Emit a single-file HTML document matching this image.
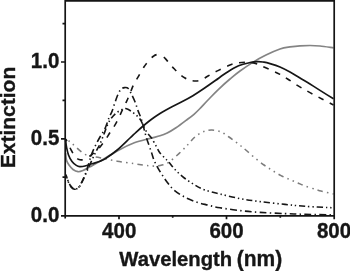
<!DOCTYPE html>
<html><head><meta charset="utf-8">
<style>
html,body{margin:0;padding:0;background:#fff;}
body{width:350px;height:271px;overflow:hidden;position:relative;font-family:"Liberation Sans",sans-serif;}
svg{position:absolute;left:0;top:0;will-change:transform;}
text{font-family:"Liberation Sans",sans-serif;font-weight:bold;font-size:20.5px;fill:#161616;stroke:#161616;stroke-width:0.35px;}
</style></head><body>
<svg width="350" height="271" viewBox="0 0 350 271">
<g>
<path d="M65.8,138.5 C66.8,139.3 69.0,141.0 72.0,143.5 C75.0,146.0 80.4,151.5 83.7,153.6 C87.0,155.7 89.3,155.6 92.0,156.3 C94.7,157.0 95.8,156.9 100.0,157.7 C104.2,158.5 111.5,160.2 117.2,161.2 C122.9,162.2 129.7,163.0 134.3,163.7 C138.9,164.4 142.1,164.9 145.0,165.3 C147.9,165.7 149.7,165.9 151.7,166.0 C153.7,166.1 155.3,166.2 157.0,166.0 C158.7,165.8 160.0,165.7 162.0,165.1 C164.0,164.5 166.0,164.1 168.9,162.2 C171.8,160.2 176.0,156.3 179.2,153.4 C182.4,150.5 185.4,147.2 188.0,144.5 C190.6,141.8 192.8,138.8 195.0,136.9 C197.2,135.0 199.2,133.8 201.0,132.8 C202.8,131.8 204.2,131.3 206.0,130.8 C207.8,130.3 209.8,129.9 212.0,130.0 C214.2,130.1 217.0,130.6 219.0,131.2 C221.0,131.8 222.3,132.5 224.0,133.5 C225.7,134.5 227.2,135.7 229.0,137.0 C230.8,138.3 233.0,140.0 235.0,141.5 C237.0,143.0 239.0,144.4 241.0,146.0 C243.0,147.6 244.7,149.0 247.0,151.0 C249.3,153.0 252.2,155.7 255.0,158.0 C257.8,160.3 261.2,163.0 264.0,165.0 C266.8,167.0 269.2,168.4 272.0,170.2 C274.8,172.0 278.0,174.0 281.0,175.6 C284.0,177.2 287.2,178.5 290.0,179.7 C292.8,180.9 295.5,181.9 298.0,183.0 C300.5,184.1 302.0,184.9 305.0,186.0 C308.0,187.1 313.3,188.7 316.0,189.5 C318.7,190.3 318.1,190.2 321.0,191.0 C323.9,191.8 331.4,193.5 333.5,194.0" fill="none" stroke="#7c7c7c" stroke-width="1.55" stroke-dasharray="5.60,4.15,1.50,4.15,1.50,4.15" stroke-dashoffset="6.12"/>
<path d="M65.6,153.0 C65.8,154.2 65.9,158.3 66.5,160.3 C67.1,162.3 67.9,163.5 69.0,165.0 C70.1,166.5 71.5,168.4 73.0,169.5 C74.5,170.6 76.3,171.5 78.0,171.7 C79.7,171.9 81.1,171.3 83.0,170.5 C84.9,169.7 86.6,168.7 89.4,167.1 C92.2,165.5 95.4,163.9 100.0,161.2 C104.6,158.5 111.5,154.0 117.2,150.9 C122.9,147.8 128.8,144.9 134.3,142.8 C139.8,140.7 145.7,139.6 150.0,138.4 C154.3,137.2 157.1,136.7 160.0,135.8 C162.9,134.9 164.5,134.3 167.2,133.0 C169.9,131.7 172.9,129.9 176.0,127.8 C179.1,125.7 183.0,122.7 186.0,120.4 C189.0,118.2 191.7,116.3 194.0,114.3 C196.3,112.3 197.7,110.9 200.0,108.5 C202.3,106.1 205.0,103.1 208.0,100.0 C211.0,96.9 214.3,93.3 218.0,89.8 C221.7,86.3 226.3,82.1 230.0,79.0 C233.7,75.9 236.0,73.9 240.0,71.0 C244.0,68.1 249.7,64.3 254.0,61.6 C258.3,58.9 261.7,57.1 266.0,55.0 C270.3,52.9 276.0,50.4 280.0,49.0 C284.0,47.6 286.7,47.4 290.0,46.9 C293.3,46.4 296.7,46.0 300.0,45.8 C303.3,45.6 306.7,45.5 310.0,45.5 C313.3,45.5 316.1,45.6 320.0,46.0 C323.9,46.4 331.2,47.5 333.5,47.8" fill="none" stroke="#848484" stroke-width="1.7"/>
<path d="M65.8,175.5 C66.1,176.2 67.0,178.4 67.7,180.0 C68.4,181.6 69.1,183.6 70.0,185.0 C70.9,186.4 72.0,187.6 73.0,188.3 C74.0,189.0 74.9,189.3 76.0,189.0 C77.1,188.7 78.3,188.3 79.5,186.7 C80.7,185.1 82.0,182.3 83.3,179.5 C84.6,176.7 86.0,173.2 87.5,170.0 C89.0,166.8 90.6,163.1 92.0,160.0 C93.4,156.9 94.7,154.2 96.0,151.5 C97.3,148.8 98.7,146.9 100.0,144.0 C101.3,141.1 102.8,137.0 104.0,134.0 C105.2,131.0 106.0,128.4 107.0,126.0 C108.0,123.6 109.2,121.3 110.3,119.6 C111.4,117.8 112.5,116.8 113.7,115.5 C114.9,114.2 116.1,113.0 117.5,112.0 C118.9,111.0 120.6,110.1 122.0,109.5 C123.4,108.9 124.2,108.2 125.7,108.5 C127.2,108.8 129.2,109.9 130.9,111.0 C132.6,112.1 134.4,113.6 136.0,115.0 C137.6,116.4 139.1,117.8 140.3,119.5 C141.5,121.2 141.9,122.8 143.0,125.0 C144.1,127.2 145.6,130.3 147.0,132.5 C148.4,134.7 149.9,135.6 151.5,138.0 C153.1,140.4 155.2,144.5 156.6,147.0 C158.0,149.5 158.5,151.1 160.0,153.0 C161.5,154.9 163.9,157.1 165.4,158.6 C166.9,160.1 167.2,160.2 168.9,162.2 C170.6,164.1 173.1,167.7 175.7,170.3 C178.3,172.9 181.2,175.6 184.3,178.0 C187.5,180.4 191.2,182.9 194.6,184.9 C198.0,186.9 200.7,188.5 204.9,190.0 C209.1,191.5 214.2,192.6 220.0,194.0 C225.8,195.4 233.3,197.3 240.0,198.6 C246.7,199.9 252.5,200.6 260.0,201.6 C267.5,202.6 277.5,203.6 285.0,204.4 C292.5,205.2 296.9,205.7 305.0,206.3 C313.1,206.9 328.8,207.6 333.5,207.8" fill="none" stroke="#161616" stroke-width="1.6" stroke-dasharray="6.20,2.90,1.40,2.90,1.40,2.90" stroke-dashoffset="8.62"/>
<path d="M65.8,174.5 C66.0,175.2 66.7,177.0 67.2,178.5 C67.7,180.0 68.3,182.0 69.0,183.5 C69.7,185.0 70.6,186.5 71.5,187.5 C72.4,188.5 73.4,189.2 74.5,189.3 C75.6,189.4 76.9,189.0 78.0,188.0 C79.1,187.0 80.1,185.1 81.0,183.5 C81.9,181.9 82.5,180.6 83.5,178.3 C84.5,176.0 85.8,173.2 87.0,169.5 C88.2,165.8 89.7,159.8 91.0,156.0 C92.3,152.2 93.5,149.7 95.0,146.5 C96.5,143.3 98.3,140.0 100.0,137.0 C101.7,134.0 103.5,131.8 105.0,128.6 C106.5,125.4 107.9,120.6 109.1,117.7 C110.3,114.8 111.1,113.6 112.0,111.4 C112.9,109.2 113.4,107.1 114.3,104.6 C115.2,102.1 116.2,98.8 117.2,96.3 C118.2,93.8 119.4,91.2 120.6,89.8 C121.8,88.3 123.2,87.8 124.5,87.6 C125.8,87.4 127.1,87.3 128.3,88.5 C129.5,89.7 130.5,92.3 131.7,94.6 C132.8,96.9 134.1,99.6 135.2,102.3 C136.3,105.0 137.1,108.2 138.1,110.9 C139.1,113.6 140.3,115.9 141.2,118.6 C142.1,121.3 142.7,123.8 143.5,126.9 C144.3,130.0 145.0,132.9 146.3,137.2 C147.6,141.5 150.1,148.4 151.5,152.6 C152.9,156.8 153.4,159.0 154.9,162.2 C156.4,165.4 158.2,168.7 160.3,172.0 C162.4,175.3 164.9,179.3 167.2,182.3 C169.5,185.3 171.2,187.6 174.0,190.0 C176.8,192.4 180.6,194.9 184.3,196.9 C188.0,198.9 192.3,200.6 196.3,202.0 C200.3,203.4 204.4,204.2 208.3,205.2 C212.2,206.2 214.7,206.9 220.0,207.8 C225.3,208.7 233.3,209.8 240.0,210.6 C246.7,211.4 252.5,211.9 260.0,212.4 C267.5,212.9 277.5,213.3 285.0,213.6 C292.5,213.9 296.9,214.1 305.0,214.3 C313.1,214.5 328.8,214.7 333.5,214.8" fill="none" stroke="#161616" stroke-width="1.6" stroke-dasharray="6.90,3.30,1.40,3.30" stroke-dashoffset="2.76"/>
<clipPath id="cl"><rect x="0" y="0" width="158.6" height="271"/></clipPath><clipPath id="cr"><rect x="158.6" y="0" width="200" height="271"/></clipPath>
<path d="M65.8,139.0 C66.2,139.8 67.1,141.6 68.0,143.5 C68.9,145.4 70.2,148.3 71.4,150.5 C72.6,152.7 73.7,155.0 75.0,156.5 C76.3,158.0 77.5,159.1 79.0,159.6 C80.5,160.1 82.2,160.0 84.0,159.4 C85.8,158.8 88.2,157.2 90.0,156.0 C91.8,154.8 93.4,153.4 95.0,152.0 C96.6,150.6 97.8,149.6 99.5,147.7 C101.2,145.8 103.2,143.0 105.0,140.5 C106.8,138.0 108.1,135.4 110.0,132.5 C111.9,129.6 114.3,126.4 116.2,122.9 C118.1,119.4 119.9,115.3 121.6,111.7 C123.3,108.1 125.0,104.8 126.6,101.4 C128.2,98.0 129.7,93.9 130.9,91.1 C132.1,88.2 132.7,86.5 133.8,84.3 C134.9,82.1 136.0,80.6 137.7,77.7 C139.4,74.8 142.0,69.9 143.9,67.0 C145.8,64.1 147.4,62.3 149.0,60.5 C150.6,58.7 152.1,57.0 153.7,56.0 C155.2,55.0 156.9,54.4 158.3,54.3 C159.7,54.2 160.9,54.9 162.0,55.6 C163.1,56.3 163.8,57.1 165.1,58.4 C166.3,59.7 168.0,61.8 169.5,63.5 C171.0,65.2 172.4,67.0 174.2,68.8 C175.9,70.6 178.2,73.0 180.0,74.5 C181.8,76.0 183.3,77.0 185.0,78.0 C186.7,79.0 188.2,79.7 190.0,80.2 C191.8,80.7 194.0,81.1 196.0,81.0 C198.0,80.9 200.0,80.3 202.0,79.5 C204.0,78.7 205.3,77.5 208.0,76.0 C210.7,74.5 214.3,72.4 218.0,70.6 C221.7,68.8 226.7,66.3 230.0,65.0 C233.3,63.7 235.3,63.4 238.0,62.9 C240.7,62.4 243.7,62.2 246.0,62.2 C248.3,62.2 250.0,62.2 252.0,62.6 C254.0,63.0 256.0,63.6 258.0,64.3 C260.0,65.0 261.5,65.9 264.0,67.0 C266.5,68.1 270.3,69.8 273.0,71.0 C275.7,72.2 277.5,73.0 280.0,74.4 C282.5,75.8 284.8,77.2 288.0,79.2 C291.2,81.2 295.3,84.2 299.0,86.4 C302.7,88.6 306.2,90.5 310.0,92.6 C313.8,94.7 318.1,96.9 322.0,99.0 C325.9,101.1 331.6,104.0 333.5,105.0" fill="none" clip-path="url(#cl)" stroke="#161616" stroke-width="1.6" stroke-dasharray="5.80,7.30" stroke-dashoffset="3.30"/>
<path d="M65.8,139.0 C66.2,139.8 67.1,141.6 68.0,143.5 C68.9,145.4 70.2,148.3 71.4,150.5 C72.6,152.7 73.7,155.0 75.0,156.5 C76.3,158.0 77.5,159.1 79.0,159.6 C80.5,160.1 82.2,160.0 84.0,159.4 C85.8,158.8 88.2,157.2 90.0,156.0 C91.8,154.8 93.4,153.4 95.0,152.0 C96.6,150.6 97.8,149.6 99.5,147.7 C101.2,145.8 103.2,143.0 105.0,140.5 C106.8,138.0 108.1,135.4 110.0,132.5 C111.9,129.6 114.3,126.4 116.2,122.9 C118.1,119.4 119.9,115.3 121.6,111.7 C123.3,108.1 125.0,104.8 126.6,101.4 C128.2,98.0 129.7,93.9 130.9,91.1 C132.1,88.2 132.7,86.5 133.8,84.3 C134.9,82.1 136.0,80.6 137.7,77.7 C139.4,74.8 142.0,69.9 143.9,67.0 C145.8,64.1 147.4,62.3 149.0,60.5 C150.6,58.7 152.1,57.0 153.7,56.0 C155.2,55.0 156.9,54.4 158.3,54.3 C159.7,54.2 160.9,54.9 162.0,55.6 C163.1,56.3 163.8,57.1 165.1,58.4 C166.3,59.7 168.0,61.8 169.5,63.5 C171.0,65.2 172.4,67.0 174.2,68.8 C175.9,70.6 178.2,73.0 180.0,74.5 C181.8,76.0 183.3,77.0 185.0,78.0 C186.7,79.0 188.2,79.7 190.0,80.2 C191.8,80.7 194.0,81.1 196.0,81.0 C198.0,80.9 200.0,80.3 202.0,79.5 C204.0,78.7 205.3,77.5 208.0,76.0 C210.7,74.5 214.3,72.4 218.0,70.6 C221.7,68.8 226.7,66.3 230.0,65.0 C233.3,63.7 235.3,63.4 238.0,62.9 C240.7,62.4 243.7,62.2 246.0,62.2 C248.3,62.2 250.0,62.2 252.0,62.6 C254.0,63.0 256.0,63.6 258.0,64.3 C260.0,65.0 261.5,65.9 264.0,67.0 C266.5,68.1 270.3,69.8 273.0,71.0 C275.7,72.2 277.5,73.0 280.0,74.4 C282.5,75.8 284.8,77.2 288.0,79.2 C291.2,81.2 295.3,84.2 299.0,86.4 C302.7,88.6 306.2,90.5 310.0,92.6 C313.8,94.7 318.1,96.9 322.0,99.0 C325.9,101.1 331.6,104.0 333.5,105.0" fill="none" clip-path="url(#cr)" stroke="#161616" stroke-width="1.6" stroke-dasharray="5.80,6.80" stroke-dashoffset="8.25"/>
<path d="M65.6,140.0 C65.8,141.2 66.0,144.5 66.5,147.0 C67.0,149.5 67.6,152.6 68.5,155.0 C69.4,157.4 70.7,159.8 72.0,161.5 C73.3,163.2 75.0,164.6 76.3,165.4 C77.6,166.2 78.2,166.5 79.7,166.6 C81.2,166.7 83.0,166.5 85.0,166.0 C87.0,165.5 89.5,164.6 92.0,163.8 C94.5,163.0 97.7,162.1 100.0,161.2 C102.3,160.3 103.1,160.1 106.0,158.2 C108.9,156.3 113.2,153.4 117.2,150.0 C121.2,146.6 126.9,140.9 130.0,138.0 C133.1,135.1 134.0,134.1 136.0,132.3 C138.0,130.5 140.0,128.7 142.0,127.0 C144.0,125.3 146.0,123.6 148.0,122.0 C150.0,120.4 152.0,118.9 154.0,117.5 C156.0,116.1 158.0,114.8 160.0,113.5 C162.0,112.2 164.0,111.1 166.0,110.0 C168.0,108.9 169.4,108.1 172.0,106.8 C174.6,105.5 177.9,103.8 181.4,102.0 C184.9,100.2 189.1,98.0 192.9,95.7 C196.7,93.4 200.5,90.9 204.3,88.3 C208.1,85.7 211.9,83.0 215.7,80.3 C219.5,77.6 223.3,74.7 227.1,72.3 C230.9,69.9 234.8,67.4 238.6,65.8 C242.4,64.2 246.8,63.3 250.0,62.6 C253.2,61.9 255.7,61.7 258.0,61.6 C260.3,61.5 262.0,61.9 264.0,62.2 C266.0,62.5 267.3,62.8 270.0,63.6 C272.7,64.4 276.7,65.6 280.0,67.0 C283.3,68.4 286.7,70.2 290.0,72.0 C293.3,73.8 296.7,76.0 300.0,78.0 C303.3,80.0 306.7,81.9 310.0,84.0 C313.3,86.1 316.1,87.9 320.0,90.4 C323.9,92.9 331.2,97.4 333.5,98.8" fill="none" stroke="#161616" stroke-width="1.7"/>
</g>
<g stroke="#141414" stroke-width="1.7" fill="none">
<path d="M65.2,218.5 V0.85 H334.2 V219.2"/>
<path d="M61,215.9 H334.2"/>
<path d="M61,62 H65 M61,138.8 H65 M62.5,23.6 H65 M62.5,100.4 H65 M62.5,177.2 H65"/>
<path d="M119,215.6 V219.2 M226.5,215.6 V219.2 M172.7,215.6 V217.8 M280.3,215.6 V217.8"/>
</g>
<text transform="translate(59.3,67.8) scale(1,1.04)" text-anchor="end">1.0</text>
<text transform="translate(59.3,144.6) scale(1,1.04)" text-anchor="end">0.5</text>
<text transform="translate(59.3,221.5) scale(1,1.04)" text-anchor="end">0.0</text>
<text transform="translate(119.2,237.5) scale(1,1.04)" text-anchor="middle">400</text>
<text transform="translate(226.5,237.5) scale(1,1.04)" text-anchor="middle">600</text>
<text transform="translate(334,237.5) scale(1,1.04)" text-anchor="middle">800</text>
<text transform="translate(119.3,265.6) scale(1,1.04)" style="font-size:20.25px">Wavelength</text>
<text transform="translate(282.2,265.6) scale(1,1.03)" text-anchor="end" style="font-size:21px">(nm)</text>
<text transform="translate(14.9,117.5) rotate(-90)" text-anchor="middle" style="font-size:21px">Extinction</text>
</svg>
</body></html>
